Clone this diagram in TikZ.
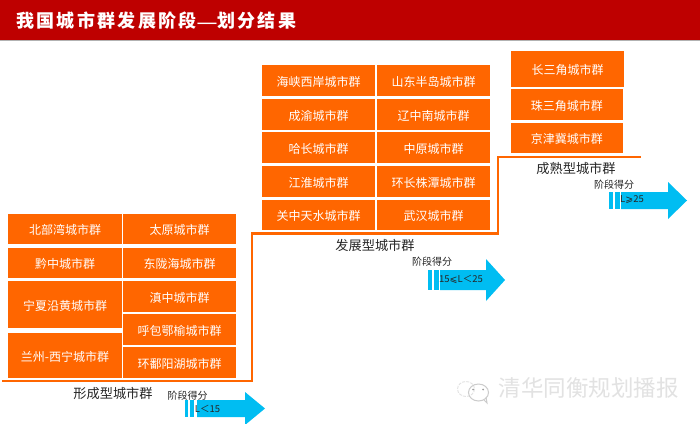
\documentclass[tikz,border=0pt]{standalone}
\usepackage{fontspec}
\setmainfont{Noto Sans CJK SC}
\newfontfamily\symfont{DejaVu Sans}
\newcommand{\tbox}[6]{%
  \pgfmathsetlengthmacro{\bw}{(#4-#2)*1pt}%
  \pgfmathsetlengthmacro{\bh}{(#5-#3)*1pt}%
  \node[citybox,anchor=north west,minimum width=\bw,minimum height=\bh] (#1) at (#2,#3) {\smash{\raisebox{-5.8pt}{#6}}};}
\newcommand{\scorearrow}[8]{%
  \fill[arrowfill] (#1,#3) rectangle (#2,#4);
  \fill[arrowfill] (#5,#3) -- (#6,#3) -- (#6,#7) -- (#8,{(#3+#4)/2}) -- (#6,{#3+#4-#7}) -- (#6,#4) -- (#5,#4) -- cycle;}
\definecolor{hdrred}{HTML}{BE0000}
\definecolor{boxorange}{HTML}{FF6600}
\definecolor{skyarrow}{HTML}{00BDF2}
\definecolor{wmark}{HTML}{E2E2E2}
\tikzset{
  citybox/.style={fill=boxorange,text=white,inner sep=0pt,outer sep=0pt,font=\fontsize{12}{14}\selectfont},
  stairline/.style={draw=boxorange,line width=2.6pt},
  grouplabel/.style={text=black!85,inner sep=0pt,font=\fontsize{13.2}{15}\selectfont},
  scorelabel/.style={text=black!85,inner sep=0pt,font=\fontsize{10}{12}\selectfont},
  rangelabel/.style={text=black!85,inner sep=0pt,font=\fontsize{9.5}{11}\selectfont},
  arrowfill/.style={fill=skyarrow}
}
\begin{document}
\begin{tikzpicture}[x=1pt,y=-1pt]
\useasboundingbox (0,0) rectangle (700,423);
\fill[white] (0,0) rectangle (700,423);
% header
\fill[hdrred] (0,0) rectangle (700,40);
\fill[black!30] (0,40) rectangle (700,41);
\node[anchor=west,text=white,inner sep=0pt,font=\fontsize{18}{20}\selectfont\bfseries\addfontfeatures{LetterSpace=13}] (title) at (16,20.5) {我国城市群发展阶段\makebox[20.3pt][c]{\scalebox{1.3}[0.7]{—}}划分结果};
% stair line
\coordinate (s0) at (2,381);
\coordinate (s1) at (252,381);
\coordinate (s2) at (252,233.5);
\coordinate (s3) at (498,233.5);
\coordinate (s4) at (498,157);
\coordinate (s5) at (641,157);
\draw[stairline] (s0) -- (s1) -- (s2) -- (s3) -- (s4) -- (s5);
% left group
\tbox{a1}{8}{214}{122}{244}{北部湾城市群}
\tbox{a2}{8}{247.5}{122}{278}{黔中城市群}
\tbox{a3}{8}{280.5}{122}{328}{宁夏沿黄城市群}
\tbox{a4}{8}{333}{122}{378}{兰州-西宁城市群}
\tbox{b1}{123}{214}{236}{244}{太原城市群}
\tbox{b2}{123}{247.5}{236}{278}{东陇海城市群}
\tbox{b3}{123}{281}{236}{312}{滇中城市群}
\tbox{b4}{123}{314}{236}{345}{呼包鄂榆城市群}
\tbox{b5}{123}{347}{236}{378}{环鄱阳湖城市群}
% middle group
\tbox{c1}{262}{65}{375}{96}{海峡西岸城市群}
\tbox{c2}{262}{98.5}{375}{130}{成渝城市群}
\tbox{c3}{262}{132}{375}{163}{哈长城市群}
\tbox{c4}{262}{165.5}{375}{197}{江淮城市群}
\tbox{c5}{262}{199.5}{375}{230}{关中天水城市群}
\tbox{d1}{377}{65}{490}{96}{山东半岛城市群}
\tbox{d2}{377}{98.5}{490}{130}{辽中南城市群}
\tbox{d3}{377}{132}{490}{163}{中原城市群}
\tbox{d4}{377}{165.5}{490}{197}{环长株潭城市群}
\tbox{d5}{377}{199.5}{490}{230}{武汉城市群}
% right group
\tbox{e1}{511}{51}{624}{87}{长三角城市群}
\tbox{e2}{511}{89}{622.5}{120}{珠三角城市群}
\tbox{e3}{511}{123}{622.5}{153}{京津冀城市群}
% arrows
\scorearrow{185}{188}{400}{417}{197}{245}{392}{265}
\fill[arrowfill] (189.5,400) rectangle (194,417);
\scorearrow{428}{432}{270}{290}{440}{486}{259}{505}
\fill[arrowfill] (433.5,270) rectangle (438.5,290);
\scorearrow{609}{613}{192}{209}{621}{668}{182}{687}
\fill[arrowfill] (614.5,192) rectangle (620,209);
% labels
\node[grouplabel] (g1) at (113,393) {形成型城市群};
\node[grouplabel] (g2) at (375,245) {发展型城市群};
\node[grouplabel] (g3) at (576,168) {成熟型城市群};
\node[scorelabel] (s1l) at (187.5,396) {阶段得分};
\node[scorelabel] (s2l) at (432,262) {阶段得分};
\node[scorelabel] (s3l) at (614,185) {阶段得分};
\node[rangelabel] (r1) at (207.5,409) {L＜15};
\node[rangelabel] (r2) at (461,279) {15{\symfont ⩽}L＜25};
\node[rangelabel] (r3) at (632,200) {L{\symfont ⩾}25};
% watermark
\draw[wmark,line width=0.9pt,dash pattern=on 3pt off 1.2pt] (466,389) ellipse (8.5 and 7.5);
\draw[wmark!90!black,line width=1pt] (478.5,392.5) ellipse (10 and 8.5);
\draw[wmark!90!black,line width=1pt] (484,400) -- (487,403) -- (486,397);
\fill[wmark!70!black] (473,389.5) circle (1);
\fill[wmark!70!black] (483,389.5) circle (1);
\node[text=wmark,inner sep=0pt,anchor=west,font=\fontsize{22.5}{26}\selectfont] (wm) at (498.5,387.5) {清华同衡规划播报};
\end{tikzpicture}
\end{document}
